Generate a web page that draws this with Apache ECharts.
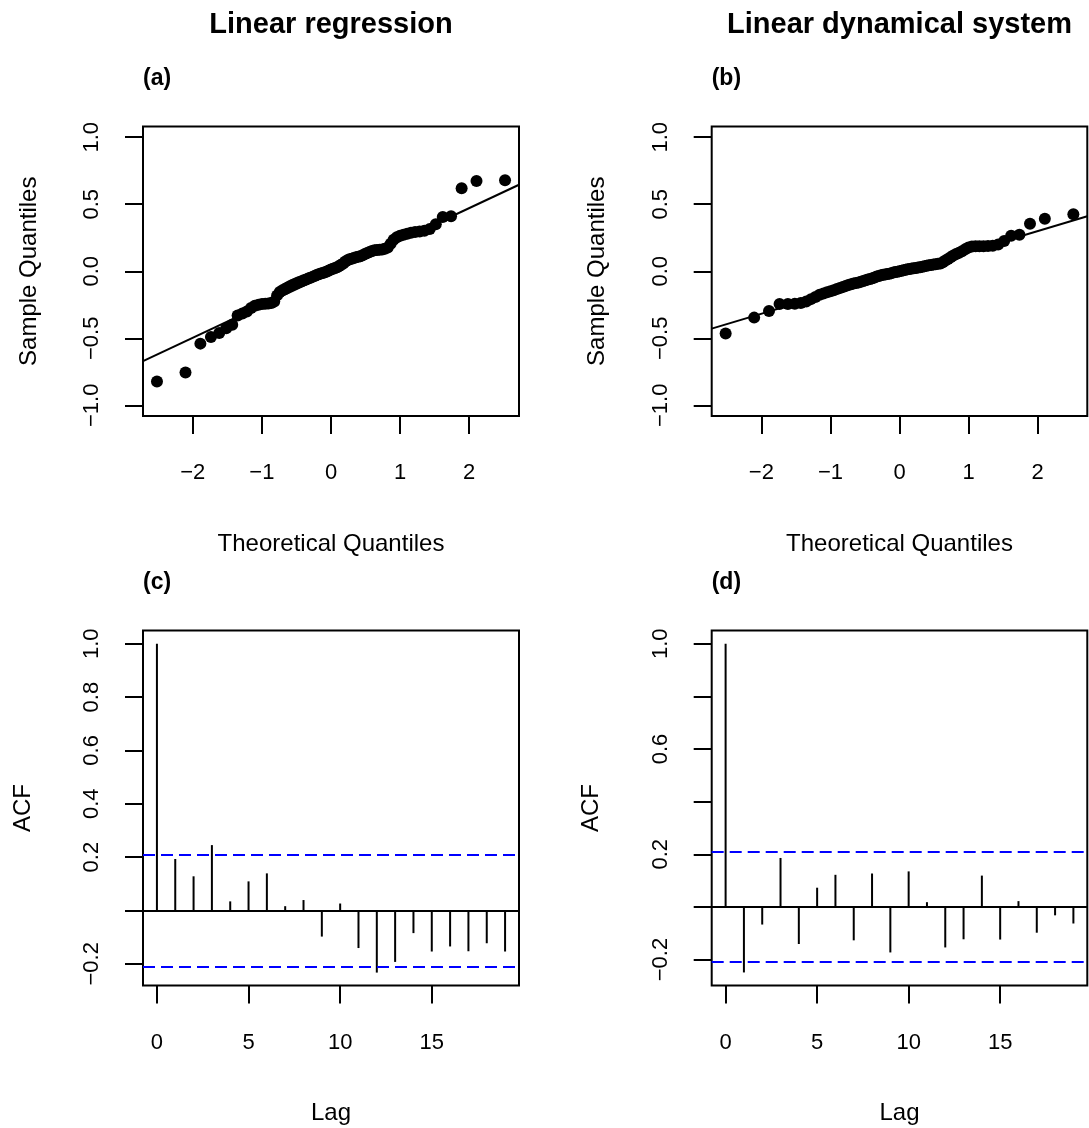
<!DOCTYPE html>
<html>
<head>
<meta charset="utf-8">
<title>Residual diagnostics</title>
<script src="https://cdn.jsdelivr.net/npm/echarts@6/dist/echarts.min.js"></script>
<style>
  html, body { margin: 0; padding: 0; background: #fff; }
  #chart { width: 1089px; height: 1128px; }
</style>
</head>
<body>
<div id="chart"></div>
<script>
// Normal theoretical quantiles for the 85 residuals (shared by both Q-Q plots)
const qqTheoretical = [
  -2.518, -2.105, -1.890, -1.737, -1.617, -1.516, -1.429, -1.351, -1.282, -1.217,
  -1.157, -1.102, -1.049, -0.9995, -0.952, -0.906, -0.863, -0.821, -0.780, -0.741,
  -0.702, -0.665, -0.629, -0.593, -0.558, -0.524, -0.491, -0.458, -0.425, -0.393,
  -0.361, -0.330, -0.299, -0.268, -0.238, -0.208, -0.178, -0.148, -0.118, -0.089,
  -0.059, -0.030, 0,
  0.030, 0.059, 0.089, 0.118, 0.148, 0.178, 0.208, 0.238, 0.268, 0.299,
  0.330, 0.361, 0.393, 0.425, 0.458, 0.491, 0.524, 0.558, 0.593, 0.629,
  0.665, 0.702, 0.741, 0.780, 0.821, 0.863, 0.906, 0.952, 0.9995, 1.049,
  1.102, 1.157, 1.217, 1.282, 1.351, 1.429, 1.516, 1.617, 1.737, 1.890,
  2.105, 2.518
];

// Sorted residuals, linear regression
const lrSample = [
  -0.822, -0.755, -0.540, -0.490, -0.460, -0.425, -0.400, -0.330, -0.315, -0.300,
  -0.275, -0.258, -0.250, -0.245, -0.242, -0.240, -0.237, -0.225, -0.180, -0.155,
  -0.142, -0.132, -0.122, -0.112, -0.103, -0.095, -0.087, -0.080, -0.074, -0.068,
  -0.062, -0.055, -0.049, -0.042, -0.035, -0.028, -0.022, -0.017, -0.013, -0.008,
  -0.001, 0.006, 0.013,
  0.019, 0.024, 0.030, 0.040, 0.048, 0.058, 0.072, 0.082, 0.089, 0.094,
  0.099, 0.104, 0.108, 0.111, 0.119, 0.128, 0.136, 0.144, 0.151, 0.156,
  0.158, 0.160, 0.163, 0.168, 0.178, 0.205, 0.235, 0.254, 0.265, 0.272,
  0.280, 0.287, 0.292, 0.296, 0.302, 0.315, 0.350, 0.405, 0.410, 0.620,
  0.674, 0.679
];

// Sorted residuals, linear dynamical system
const ldsSample = [
  -0.465, -0.346, -0.297, -0.245, -0.245, -0.242, -0.237, -0.225, -0.208, -0.192,
  -0.176, -0.166, -0.157, -0.149, -0.141, -0.133, -0.125, -0.117, -0.110, -0.103,
  -0.097, -0.092, -0.088, -0.084, -0.079, -0.073, -0.067, -0.062, -0.057, -0.052,
  -0.046, -0.040, -0.035, -0.030, -0.027, -0.024, -0.021, -0.018, -0.014, -0.010,
  -0.006, -0.003, 0.000,
  0.004, 0.008, 0.011, 0.014, 0.017, 0.020, 0.023, 0.025, 0.028, 0.030,
  0.033, 0.037, 0.041, 0.044, 0.047, 0.050, 0.053, 0.056, 0.058, 0.068,
  0.080, 0.092, 0.105, 0.118, 0.128, 0.138, 0.150, 0.165, 0.178, 0.184,
  0.186, 0.186, 0.186, 0.188, 0.191, 0.200, 0.225, 0.265, 0.273, 0.354,
  0.391, 0.426
];

// Q-Q reference lines: [intercept, slope]
const lrQqLine = [-0.013, 0.242];
const ldsQqLine = [-0.009, 0.154];

// Autocorrelation of residuals by lag
const lags = [0, 1, 2, 3, 4, 5, 6, 7, 8, 9, 10, 11, 12, 13, 14, 15, 16, 17, 18, 19];
const lrAcf = [
  1.000, 0.193, 0.128, 0.245, 0.034, 0.109, 0.139, 0.016, 0.039, -0.098,
  0.026, -0.141, -0.233, -0.193, -0.085, -0.154, -0.135, -0.153, -0.123, -0.154
];
const ldsAcf = [
  1.000, -0.249, -0.067, 0.186, -0.141, 0.073, 0.122, -0.127, 0.127, -0.173,
  0.135, 0.018, -0.154, -0.123, 0.119, -0.124, 0.022, -0.098, -0.032, -0.063
];
// 95% white-noise band, 1.96 / sqrt(85)
const acfBound = 0.2126;

// Tick positions and labelled values
const qqXTicks = [-2, -1, 0, 1, 2];
const qqYTicks = [-1, -0.5, 0, 0.5, 1];
const lagTicks = [0, 5, 10, 15];
const acfYTicks = [-0.2, 0, 0.2, 0.4, 0.6, 0.8, 1.0];
const lrAcfLabels = [-0.2, 0.2, 0.4, 0.6, 0.8, 1.0];
const ldsAcfLabels = [-0.2, 0.2, 0.6, 1.0];

const FONT = "'Liberation Sans', Arial, Helvetica, sans-serif";
const minus = '\u2212';
const fmt1 = v => (v < -1e-9 ? minus : '') + Math.abs(v).toFixed(1);
const fmt0 = v => (v < -1e-9 ? minus : '') + Math.abs(Math.round(v));

const grids = [
  { left: 143, top: 126.5, width: 376, height: 289.5 },
  { left: 711.7, top: 126.5, width: 375.6, height: 289.5 },
  { left: 143, top: 630.6, width: 376, height: 355 },
  { left: 711.7, top: 630.6, width: 375.6, height: 355 }
].map(g => Object.assign({
  show: true, borderColor: '#000', borderWidth: 2, backgroundColor: 'transparent',
  containLabel: false
}, g));

function valueAxis(gridIndex, min, max, ticks, labels, formatter, extra) {
  return Object.assign({
    type: 'value', gridIndex, min, max,
    axisLine: { show: false, onZero: false },
    splitLine: { show: false },
    axisTick: { show: true, length: 18, lineStyle: { color: '#000', width: 2 }, customValues: ticks },
    axisLabel: {
      color: '#000', fontFamily: FONT, fontSize: 22,
      customValues: labels, formatter: formatter
    },
    nameTextStyle: { color: '#000', fontFamily: FONT, fontSize: 24 }
  }, extra);
}

function xAxisFor(gridIndex, min, max, ticks, formatter, name) {
  const ax = valueAxis(gridIndex, min, max, ticks, ticks, formatter, {
    name: name, nameLocation: 'middle', nameGap: 116
  });
  ax.axisLabel.margin = 46;
  return ax;
}

function yAxisFor(gridIndex, min, max, ticks, labels, name, gap) {
  const ax = valueAxis(gridIndex, min, max, ticks, labels, fmt1, {
    name: name, nameLocation: 'middle', nameGap: gap
  });
  ax.axisLabel.rotate = 90;
  ax.axisLabel.margin = 40;
  return ax;
}

const qqLimX = [-2.72, 2.72];
const qqPoints = sample => qqTheoretical.map((t, i) => [t, sample[i]]);
const qqLinePoints = p => qqLimX.map(x => [x, p[0] + p[1] * x]);
const acfPairs = acf => lags.map((l, i) => [l, acf[i]]);

function boundLines() {
  return {
    silent: true, symbol: 'none', label: { show: false },
    lineStyle: { color: '#0000ff', width: 2, type: [12, 6] },
    data: [{ yAxis: acfBound }, { yAxis: -acfBound }]
  };
}

function zeroLine() {
  return {
    silent: true, symbol: 'none', label: { show: false },
    lineStyle: { color: '#000', width: 2, type: 'solid' },
    data: [{ yAxis: 0 }]
  };
}

const titleFont = 'bold 29px ' + FONT;
const panelFont = 'bold 23px ' + FONT;

const option = {
  animation: false,
  backgroundColor: '#fff',
  textStyle: { fontFamily: FONT },
  grid: grids,
  xAxis: [
    xAxisFor(0, qqLimX[0], qqLimX[1], qqXTicks, fmt0, 'Theoretical Quantiles'),
    xAxisFor(1, qqLimX[0], qqLimX[1], qqXTicks, fmt0, 'Theoretical Quantiles'),
    xAxisFor(2, -0.76, 19.76, lagTicks, fmt0, 'Lag'),
    xAxisFor(3, -0.76, 19.76, lagTicks, fmt0, 'Lag')
  ],
  yAxis: [
    yAxisFor(0, -1.08, 1.08, qqYTicks, qqYTicks, 'Sample Quantiles', 102),
    yAxisFor(1, -1.08, 1.08, qqYTicks, qqYTicks, 'Sample Quantiles', 102),
    yAxisFor(2, -0.2818, 1.0493, acfYTicks, lrAcfLabels, 'ACF', 108),
    yAxisFor(3, -0.299, 1.05, acfYTicks, ldsAcfLabels, 'ACF', 108)
  ],
  graphic: [
    { type: 'text', x: 331, y: 25, style: { text: 'Linear regression', font: titleFont, fill: '#000', textAlign: 'center', textVerticalAlign: 'middle' } },
    { type: 'text', x: 899.5, y: 25, style: { text: 'Linear dynamical system', font: titleFont, fill: '#000', textAlign: 'center', textVerticalAlign: 'middle' } },
    { type: 'text', x: 143, y: 79, style: { text: '(a)', font: panelFont, fill: '#000', textAlign: 'left', textVerticalAlign: 'middle' } },
    { type: 'text', x: 711.7, y: 79, style: { text: '(b)', font: panelFont, fill: '#000', textAlign: 'left', textVerticalAlign: 'middle' } },
    { type: 'text', x: 143, y: 583, style: { text: '(c)', font: panelFont, fill: '#000', textAlign: 'left', textVerticalAlign: 'middle' } },
    { type: 'text', x: 711.7, y: 583, style: { text: '(d)', font: panelFont, fill: '#000', textAlign: 'left', textVerticalAlign: 'middle' } }
  ],
  series: [
    {
      type: 'scatter', xAxisIndex: 0, yAxisIndex: 0, data: qqPoints(lrSample),
      symbol: 'circle', symbolSize: 12, itemStyle: { color: '#000', opacity: 1 }, silent: true
    },
    {
      type: 'line', xAxisIndex: 0, yAxisIndex: 0, data: qqLinePoints(lrQqLine),
      showSymbol: false, symbol: 'none', lineStyle: { color: '#000', width: 2 }, silent: true
    },
    {
      type: 'scatter', xAxisIndex: 1, yAxisIndex: 1, data: qqPoints(ldsSample),
      symbol: 'circle', symbolSize: 12, itemStyle: { color: '#000', opacity: 1 }, silent: true
    },
    {
      type: 'line', xAxisIndex: 1, yAxisIndex: 1, data: qqLinePoints(ldsQqLine),
      showSymbol: false, symbol: 'none', lineStyle: { color: '#000', width: 2 }, silent: true
    },
    {
      type: 'bar', xAxisIndex: 2, yAxisIndex: 2, data: acfPairs(lrAcf),
      barWidth: 2, itemStyle: { color: '#000' }, silent: true, markLine: zeroLine()
    },
    {
      type: 'line', xAxisIndex: 2, yAxisIndex: 2, data: [], markLine: boundLines(), silent: true
    },
    {
      type: 'bar', xAxisIndex: 3, yAxisIndex: 3, data: acfPairs(ldsAcf),
      barWidth: 2, itemStyle: { color: '#000' }, silent: true, markLine: zeroLine()
    },
    {
      type: 'line', xAxisIndex: 3, yAxisIndex: 3, data: [], markLine: boundLines(), silent: true
    }
  ]
};

const chart = echarts.init(document.getElementById('chart'), null, { renderer: 'canvas' });
chart.setOption(option);
</script>
</body>
</html>
